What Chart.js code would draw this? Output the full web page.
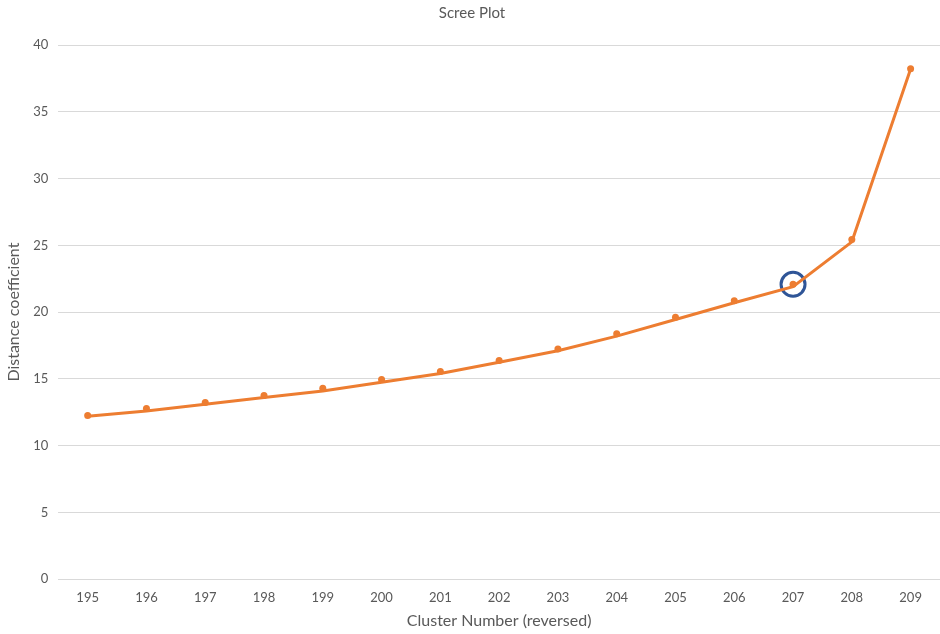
<!DOCTYPE html>
<html>
<head>
<meta charset="utf-8">
<script src="https://cdn.jsdelivr.net/npm/chart.js@4/dist/chart.umd.min.js"></script>
<style>
  html, body { margin: 0; padding: 0; background: #fff; overflow: hidden; }
  #wrap { width: 940px; height: 634px; }
  canvas { display: block; }
</style>
</head>
<body>
<div id="wrap"><canvas id="scree"></canvas></div>
<script>
document.addEventListener("DOMContentLoaded", function () {
    let clusters = ["195", "196", "197", "198", "199", "200", "201", "202", "203", "204", "205", "206", "207", "208", "209"];
    let distancePoints = [12.26, 12.78, 13.23, 13.76, 14.29, 14.96, 15.56, 16.37, 17.24, 18.37, 19.62, 20.85, 22.08, 25.44, 38.22];
    let distanceLine = [12.2, 12.6, 13.1, 13.6, 14.1, 14.75, 15.4, 16.24, 17.1, 18.2, 19.45, 20.7, 21.9, 25.26, 38.2];
    let elbow = [null, null, null, null, null, null, null, null, null, null, null, null, 22.08, null, null];

    let grey = "#595959";
    let font = "Lato, 'Open Sans', sans-serif";

    new Chart(document.getElementById("scree"), {
        type: "line",
        data: {
            labels: clusters,
            datasets: [{
                data: distanceLine,
                borderColor: "#ED7D31",
                borderWidth: 3,
                pointRadius: 0,
                tension: 0
            }, {
                data: distancePoints,
                showLine: false,
                pointRadius: 3.5,
                pointBackgroundColor: "#ED7D31",
                pointBorderWidth: 0
            }, {
                data: elbow,
                showLine: false,
                pointRadius: 12,
                pointBorderWidth: 3,
                pointBorderColor: "#2F5597",
                pointBackgroundColor: "rgba(0,0,0,0)"
            }]
        },
        options: {
            responsive: true,
            maintainAspectRatio: false,
            animation: false,
            layout: { autoPadding: false, padding: { left: 4, right: 0, top: 0, bottom: 4 } },
            plugins: {
                legend: { display: false },
                tooltip: { enabled: false },
                title: {
                    display: true,
                    text: "Scree Plot",
                    color: grey,
                    font: { family: font, size: 15, weight: "normal" },
                    padding: { top: 4, bottom: 23 }
                }
            },
            scales: {
                x: {
                    offset: true,
                    grid: { display: false },
                    border: { display: false },
                    ticks: { color: grey, font: { family: font, size: 13 }, padding: 3 },
                    title: {
                        display: true,
                        text: "Cluster Number (reversed)",
                        color: grey,
                        font: { family: font, size: 16 },
                        padding: { top: 2, bottom: 0 }
                    }
                },
                y: {
                    min: 0,
                    max: 40,
                    ticks: { stepSize: 5, color: grey, font: { family: font, size: 13 }, padding: 10 },
                    grid: { color: "#D9D9D9", lineWidth: 1, drawTicks: false },
                    border: { display: false },
                    title: {
                        display: true,
                        text: "Distance coefficient",
                        color: grey,
                        font: { family: font, size: 16 },
                        padding: { top: 0, bottom: 0 }
                    }
                }
            }
        }
    });
});
</script>
</body>
</html>
